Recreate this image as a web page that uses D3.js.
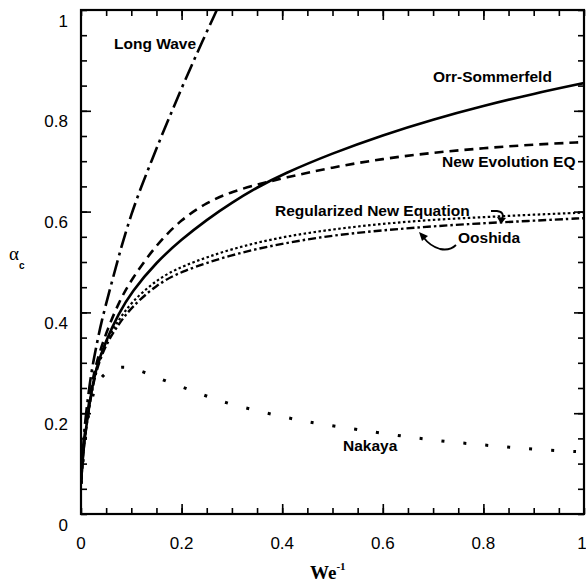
<!DOCTYPE html>
<html><head><meta charset="utf-8">
<script src="https://cdn.jsdelivr.net/npm/d3@7"></script>
<style>body{margin:0;background:#fff}svg{display:block}</style>
</head><body>
<svg id="c" width="586" height="585"></svg>
<script>
// ---- data ----
const xTicks = [0, 0.2, 0.4, 0.6, 0.8, 1];
const xTickLabels = ["0", "0.2", "0.4", "0.6", "0.8", "1"];
const yTicks = [0, 0.2, 0.4, 0.6, 0.8, 1];
const yTickLabels = ["0", "0.2", "0.4", "0.6", "0.8", "1"];

const orrX = [0, 0.005, 0.01, 0.02, 0.03, 0.05, 0.075, 0.1, 0.15, 0.2, 0.25, 0.3, 0.35, 0.4, 0.5, 0.6, 0.7, 0.8, 0.9, 1.0];
const orrY = [0.06, 0.13, 0.17, 0.24, 0.29, 0.345, 0.398, 0.44, 0.50, 0.545, 0.584, 0.618, 0.648, 0.674, 0.716, 0.752, 0.783, 0.81, 0.834, 0.855];

const newEvoX = [0, 0.005, 0.01, 0.02, 0.03, 0.05, 0.075, 0.1, 0.15, 0.2, 0.25, 0.3, 0.36, 0.4, 0.5, 0.6, 0.7, 0.8, 0.9, 1.0];
const newEvoY = [0.06, 0.14, 0.18, 0.25, 0.30, 0.36, 0.42, 0.465, 0.535, 0.585, 0.618, 0.64, 0.656, 0.666, 0.688, 0.705, 0.717, 0.726, 0.733, 0.738];

const longWaveX = [0, 0.005, 0.01, 0.02, 0.03, 0.04, 0.06, 0.08, 0.1, 0.12, 0.14, 0.16, 0.18, 0.2, 0.22, 0.24, 0.27];
const longWaveY = [0.06, 0.15, 0.2, 0.28, 0.33, 0.38, 0.455, 0.53, 0.595, 0.65, 0.70, 0.75, 0.797, 0.845, 0.89, 0.935, 1.0];

const regX = [0, 0.005, 0.01, 0.02, 0.03, 0.05, 0.075, 0.1, 0.15, 0.2, 0.3, 0.4, 0.5, 0.6, 0.7, 0.8, 0.9, 1.0];
const regY = [0.06, 0.13, 0.17, 0.24, 0.29, 0.345, 0.385, 0.42, 0.465, 0.492, 0.527, 0.55, 0.565, 0.576, 0.584, 0.589, 0.594, 0.598];

const ooshidaX = [0, 0.005, 0.01, 0.02, 0.03, 0.05, 0.075, 0.1, 0.15, 0.2, 0.3, 0.4, 0.5, 0.6, 0.7, 0.8, 0.9, 1.0];
const ooshidaY = [0.06, 0.13, 0.17, 0.235, 0.285, 0.338, 0.377, 0.41, 0.455, 0.482, 0.515, 0.537, 0.553, 0.563, 0.571, 0.577, 0.582, 0.587];

const nakayaX = [0, 0.01, 0.02, 0.03, 0.04, 0.06, 0.08, 0.1, 0.13, 0.17, 0.22, 0.26, 0.3, 0.35, 0.4, 0.45, 0.5, 0.6, 0.7, 0.8, 0.9, 1.0];
const nakayaY = [0.06, 0.17, 0.225, 0.255, 0.272, 0.288, 0.292, 0.29, 0.28, 0.263, 0.245, 0.23, 0.217, 0.205, 0.193, 0.183, 0.175, 0.16, 0.146, 0.137, 0.128, 0.123];

const seriesNames = ["Orr-Sommerfeld", "New Evolution EQ", "Long Wave", "Regularized New Equation", "Ooshida", "Nakaya"];

// ---- drawing ----
const svg = d3.select("#c");
const L = 81, R = 584, T = 10, B = 514;
const x = d3.scaleLinear().domain([0, 1]).range([L, R]);
const y = d3.scaleLinear().domain([0, 1]).range([B, T]);

const clipId = "plotclip";
svg.append("clipPath").attr("id", clipId).append("rect")
  .attr("x", L).attr("y", T).attr("width", R - L).attr("height", B - T);

const series = [
  {name: seriesNames[0], xs: orrX, ys: orrY, dash: null, w: 2.6},
  {name: seriesNames[1], xs: newEvoX, ys: newEvoY, dash: "9,6", w: 2.6},
  {name: seriesNames[2], xs: longWaveX, ys: longWaveY, dash: "17,5,3,5", w: 2.6},
  {name: seriesNames[3], xs: regX, ys: regY, dash: "2.5,2.5", w: 2.2},
  {name: seriesNames[4], xs: ooshidaX, ys: ooshidaY, dash: "8,3,2.5,3", w: 2.4},
  {name: seriesNames[5], xs: nakayaX, ys: nakayaY, dash: "3,19", w: 3}
];

const line = d3.line().x(d => x(d[0])).y(d => y(d[1])).curve(d3.curveBasis);
const g = svg.append("g").attr("clip-path", `url(#${clipId})`);
series.forEach(s => {
  g.append("path")
    .datum(s.xs.map((v, i) => [v, s.ys[i]]))
    .attr("d", line)
    .attr("fill", "none")
    .attr("stroke", "#000")
    .attr("stroke-width", s.w)
    .attr("stroke-dasharray", s.dash);
});

// axes with inward ticks on all four sides
const minor = d3.range(0, 1.0001, 0.05);
function addAxis(axisGen, tx, ty) {
  const a = svg.append("g").attr("transform", `translate(${tx},${ty})`).call(axisGen);
  a.select(".domain").remove();
  a.selectAll("text").remove();
  a.selectAll("line").attr("stroke", "#000").attr("stroke-width", 1.6);
  return a;
}
addAxis(d3.axisBottom(x).tickValues(minor).tickSize(-6), 0, B);
addAxis(d3.axisBottom(x).tickValues(xTicks.slice(1, -1)).tickSize(-10), 0, B);
addAxis(d3.axisTop(x).tickValues(minor).tickSize(-6), 0, T);
addAxis(d3.axisTop(x).tickValues(xTicks.slice(1, -1)).tickSize(-10), 0, T);
addAxis(d3.axisLeft(y).tickValues(minor).tickSize(-6), L, 0);
addAxis(d3.axisLeft(y).tickValues(yTicks.slice(1, -1)).tickSize(-10), L, 0);
addAxis(d3.axisRight(y).tickValues(minor).tickSize(-6), R, 0);
addAxis(d3.axisRight(y).tickValues(yTicks.slice(1, -1)).tickSize(-10), R, 0);

// frame
svg.append("rect").attr("x", L).attr("y", T).attr("width", R - L).attr("height", B - T)
  .attr("fill", "none").attr("stroke", "#000").attr("stroke-width", 2.2);

const sans = "'Liberation Sans', Arial, Helvetica, sans-serif";
const serif = "'Liberation Serif', 'Times New Roman', serif";

// tick labels
svg.append("g").selectAll("text").data(yTicks).join("text")
  .attr("x", 68).attr("y", d => y(d) + 16.5)
  .attr("text-anchor", "end").attr("font-family", sans).attr("font-size", 17)
  .text((d, i) => yTickLabels[i]);
svg.append("g").selectAll("text").data(xTicks).join("text")
  .attr("x", d => d === 1 ? x(d) - 2 : x(d)).attr("y", 549)
  .attr("text-anchor", "middle").attr("font-family", sans).attr("font-size", 17)
  .text((d, i) => xTickLabels[i]);

// axis titles
const xt = svg.append("text").attr("x", 310).attr("y", 579).attr("font-family", serif)
  .attr("font-size", 19).attr("font-weight", "bold");
xt.append("tspan").text("We");
xt.append("tspan").attr("dy", -9).attr("font-size", 11).text("-1");

const yt = svg.append("text").attr("x", 9).attr("y", 260).attr("font-family", serif)
  .attr("font-size", 19);
yt.append("tspan").text("α");
yt.append("tspan").attr("dy", 9).attr("font-size", 10).attr("font-weight", "bold")
  .attr("font-family", sans).text("c");

// curve labels
const labels = [
  {t: seriesNames[2], x: 114, y: 49},
  {t: seriesNames[0], x: 433, y: 82},
  {t: seriesNames[1], x: 442, y: 167},
  {t: seriesNames[3], x: 275, y: 216},
  {t: seriesNames[4], x: 458, y: 243},
  {t: seriesNames[5], x: 343, y: 451}
];
svg.append("g").selectAll("text").data(labels).join("text")
  .attr("x", d => d.x).attr("y", d => d.y)
  .attr("font-family", sans).attr("font-size", 15.5).attr("font-weight", "bold")
  .text(d => d.t);

// annotation arrows
svg.append("path").attr("d", "M491,211 L497,211 Q505,212 502,219")
  .attr("fill", "none").attr("stroke", "#000").attr("stroke-width", 1.8);
svg.append("path").attr("d", "M497,217 L501,224 L506,218 Z").attr("fill", "#000");

svg.append("path").attr("d", "M456,245 Q450,251 440,249 Q430,246 424,238")
  .attr("fill", "none").attr("stroke", "#000").attr("stroke-width", 1.8);
svg.append("path").attr("d", "M419,232 L428,236 L422,241 Z").attr("fill", "#000");
</script>
</body></html>
